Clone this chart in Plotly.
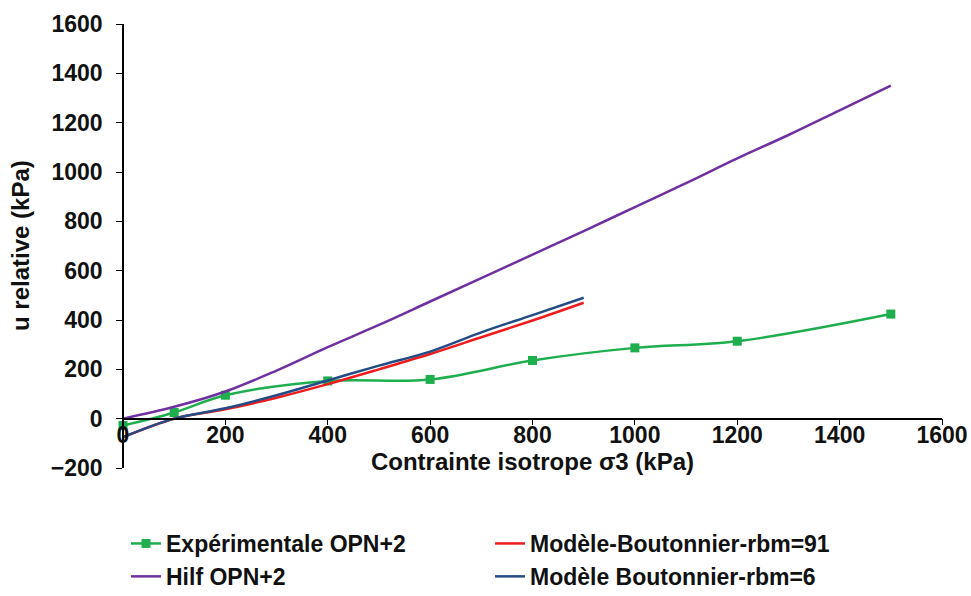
import plotly.graph_objects as go

# experimental points (squares)
exp_x = [0, 100, 200, 400, 600, 800, 1000, 1200, 1500]
exp_y = [-28, 25, 95, 153, 159, 236, 287, 314, 424]

# Hilf OPN+2
hilf_x = [0, 100, 200, 300, 400, 500, 600, 700, 800, 900, 1000, 1100, 1200, 1300, 1400, 1500]
hilf_y = [0, 48, 110, 195, 290, 380, 475, 570, 665, 760, 858, 955, 1055, 1150, 1250, 1350]

# Boutonnier models
mod_x = [0, 100, 200, 300, 400, 500, 600, 700, 800, 900]
mod91_y = [-75, 0, 38, 85, 140, 200, 262, 330, 398, 470]
mod6_y = [-75, 0, 42, 95, 155, 215, 272, 350, 420, 490]

FONT = "Liberation Sans"
GREEN = "#1fae4e"
PURPLE = "#7030a0"
RED = "#ee1c1c"
BLUE = "#244b86"
TXT = "#111111"

fig = go.Figure()

fig.add_trace(go.Scatter(x=exp_x, y=exp_y, name="Expérimentale OPN+2",
                         mode="lines+markers", line=dict(color=GREEN, width=2.5, shape="spline"),
                         marker=dict(symbol="square", size=9, color=GREEN), cliponaxis=False,
                         legend="legend", legendgroup="a"))
fig.add_trace(go.Scatter(x=hilf_x, y=hilf_y, name="Hilf OPN+2", mode="lines",
                         line=dict(color=PURPLE, width=2.5, shape="spline"),
                         legend="legend", legendgroup="b"))
fig.add_trace(go.Scatter(x=mod_x, y=mod91_y, name="Modèle-Boutonnier-rbm=91", mode="lines",
                         line=dict(color=RED, width=2.5, shape="spline"),
                         legend="legend2", legendgroup="c"))
fig.add_trace(go.Scatter(x=mod_x, y=mod6_y, name="Modèle Boutonnier-rbm=6", mode="lines",
                         line=dict(color=BLUE, width=2.5, shape="spline"),
                         legend="legend2", legendgroup="d"))

tickfont = dict(family=FONT, size=23, color=TXT, weight="bold")
titlefont = dict(family=FONT, size=24, color=TXT, weight="bold")
legfont = dict(family=FONT, size=23, color=TXT, weight="bold")

W, H = 971, 596
fig.update_layout(
    width=W, height=H,
    margin=dict(l=123, r=29, t=24, b=128, autoexpand=False),
    paper_bgcolor="white", plot_bgcolor="white",
    font=dict(family=FONT, size=22, color=TXT),
    xaxis=dict(range=[0, 1600], dtick=200, showgrid=False, zeroline=False,
               domain=[0, 1], automargin=False,
               showline=True, linecolor="black", linewidth=1.5,
               ticks="outside", ticklen=6, tickcolor="black", tickangle=0,
               tickfont=tickfont, ticklabelstandoff=-10, ticklabeloverflow="allow",
               anchor="free", position=200 / 1800,
               title=dict(text="Contrainte isotrope σ3 (kPa)", font=titlefont, standoff=0)),
    yaxis=dict(range=[-200, 1600], dtick=200, showgrid=False, zeroline=False,
               domain=[0, 1], automargin=False, anchor="free", position=0,
               showline=True, linecolor="black", linewidth=1.5,
               ticks="outside", ticklen=6, tickcolor="black",
               tickfont=tickfont, ticklabelstandoff=9, ticklabeloverflow="allow"),
    annotations=[dict(text="u relative (kPa)", textangle=-90, font=titlefont,
                      xref="paper", yref="paper", x=(20 - 123) / 819, y=0.5,
                      xanchor="center", yanchor="middle", showarrow=False)],
    legend=dict(x=126 / W, y=1 - 522 / H, xref="container", yref="container",
                xanchor="left", yanchor="top", traceorder="grouped", tracegroupgap=0,
                font=legfont, bgcolor="rgba(0,0,0,0)", itemwidth=30),
    legend2=dict(x=490 / W, y=1 - 522 / H, xref="container", yref="container",
                 xanchor="left", yanchor="top", traceorder="grouped", tracegroupgap=0,
                 font=legfont, bgcolor="rgba(0,0,0,0)", itemwidth=30),
    showlegend=True,
)

# drop the default 8px page margin so the figure fills the window exactly
fig.write_html("out.html", config={"displayModeBar": False},
               post_script="document.body.style.margin='0';document.body.style.overflow='hidden';")
